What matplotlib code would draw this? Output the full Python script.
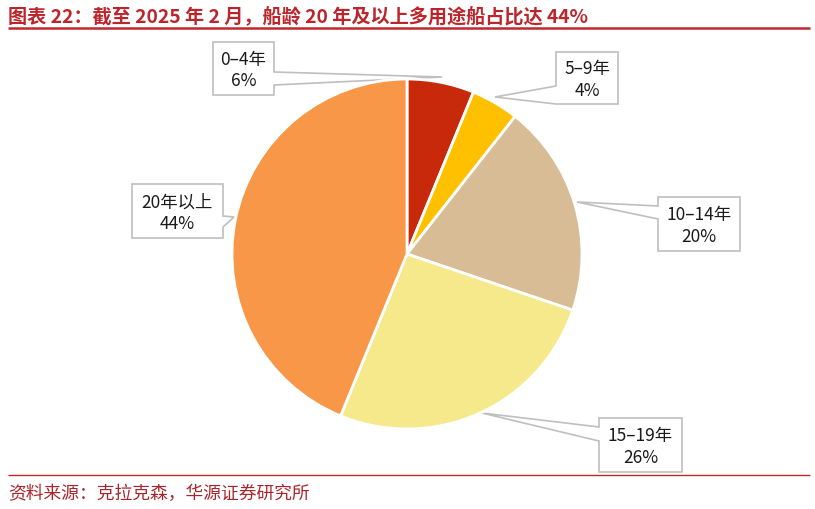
import matplotlib.pyplot as plt
from matplotlib.patches import Polygon

plt.rcParams['font.family'] = ['Noto Sans CJK SC', 'DejaVu Sans']

# ship age buckets, share of multipurpose fleet (%)
categories = ['0–4年', '5–9年', '10–14年', '15–19年', '20年以上']
shares = [6.2, 4.4, 19.6, 26.0, 43.8]
colors = ['#C8290A', '#FFC000', '#D8BC95', '#F6E98C', '#F79747']

title = '图表 22：截至 2025 年 2 月，船龄 20 年及以上多用途船占比达 44%'
source = '资料来源：克拉克森，华源证券研究所'

W, H = 815, 510
fig = plt.figure(figsize=(W / 100, H / 100), dpi=100)
ax = fig.add_axes([0, 0, 1, 1])

# pie in pixel coords (y axis flipped later, so counterclock in data = clockwise on screen)
cx, cy, r = 407, 255, 175
ax.pie(shares, colors=colors, startangle=270, counterclock=True,
       center=(cx, cy), radius=r,
       wedgeprops=dict(edgecolor='white', linewidth=2, zorder=3))

# callouts: box (x0, y0, x1, y1), side of pointer, pointer base y's, tip
callouts = [
    ((213, 43, 274, 96), 'right', (73, 86), (442, 78)),
    ((556, 53, 618, 105), 'left', (87, 105), (495, 98)),
    ((658, 198, 740, 252), 'left', (207, 220), (577, 203)),
    ((599, 419, 682, 473), 'left', (428, 442), (482, 414)),
    ((132, 185, 223, 239), 'right', (217, 228), (234, 218)),
]

for (box, side, base, tip), cat, v in zip(callouts, categories, shares):
    x0, y0, x1, y1 = box
    if side == 'right':
        pts = [(x0, y0), (x1, y0), (x1, base[0]), tip, (x1, base[1]), (x1, y1), (x0, y1)]
    else:
        pts = [(x0, y0), (x1, y0), (x1, y1), (x0, y1), (x0, base[1]), tip, (x0, base[0])]
    ax.add_patch(Polygon(pts, closed=True, facecolor='white', edgecolor='#BFBFBF',
                         linewidth=1.2, zorder=2))
    ax.text((x0 + x1) / 2, (y0 + y1) / 2 + 1, f'{cat}\n{v:.0f}%', ha='center', va='center',
            fontsize=12.5, color='#1a1a1a', linespacing=1.25, zorder=4)

ax.set_xlim(0, W)
ax.set_ylim(H, 0)
ax.set_aspect('auto')
ax.axis('off')

# header / footer
ax.text(8, 16, title, ha='left', va='center', fontsize=13.8, fontweight='bold', color='#BC252B')
ax.plot([8, 810], [29, 29], color='#C0282D', linewidth=1.8, solid_capstyle='butt')
ax.plot([8, 810], [476, 476], color='#C0282D', linewidth=1.0, solid_capstyle='butt')
ax.text(8, 494, source, ha='left', va='center', fontsize=12.8, color='#A8262B', fontweight='light')

fig.savefig('out.png', dpi=100)
